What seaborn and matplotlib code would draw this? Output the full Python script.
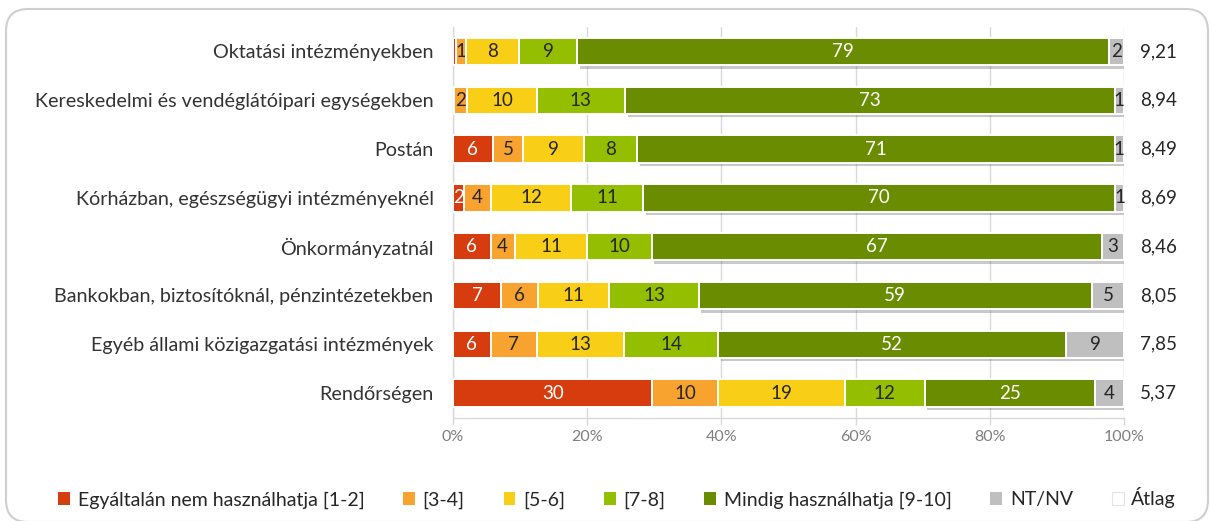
import matplotlib
matplotlib.use("Agg")
import matplotlib.pyplot as plt
import matplotlib.transforms as mtransforms
from matplotlib import patheffects as pe
from matplotlib.patches import FancyBboxPatch, Patch
import seaborn as sns
import pandas as pd
import numpy as np

# ---------------- data ----------------
categories = [
    "Oktatási intézményekben",
    "Kereskedelmi és vendéglátóipari egységekben",
    "Postán",
    "Kórházban, egészségügyi intézményeknél",
    "Önkormányzatnál",
    "Bankokban, biztosítóknál, pénzintézetekben",
    "Egyéb állami közigazgatási intézmények",
    "Rendőrségen",
]
series_names = ["Egyáltalán nem használhatja [1-2]", "[3-4]", "[5-6]", "[7-8]",
                "Mindig használhatja [9-10]", "NT/NV"]
v_1_2 = [0.5, 0.2, 5.9, 1.6, 5.6, 7.2, 5.6, 29.7]
v_3_4 = [1.4, 1.9, 4.6, 4.1, 3.6, 5.5, 6.9, 9.8]
v_5_6 = [8.0, 10.4, 9.0, 11.9, 10.8, 10.6, 13.0, 18.9]
v_7_8 = [8.6, 13.1, 7.9, 10.7, 9.6, 13.3, 14.0, 11.9]
v_9_10 = [79.3, 73.0, 71.2, 70.4, 67.1, 58.6, 51.9, 25.4]
v_ntnv = [2.2, 1.4, 1.4, 1.3, 3.3, 4.8, 8.6, 4.3]
atlag = [9.21, 8.94, 8.49, 8.69, 8.46, 8.05, 7.85, 5.37]
x_ticks = [0, 20, 40, 60, 80, 100]

colors = ["#D63C0E", "#F8A330", "#F8CE17", "#93BF00", "#6A8C00", "#BFBFBF"]
text_colors = ["white", "#262626", "#262626", "#262626", "white", "#262626"]

# ---------------- style ----------------
sns.set_theme(style="white")
plt.rcParams["font.family"] = ["Lato", "DejaVu Sans"]

W, H = 1210, 521
fig = plt.figure(figsize=(W / 100, H / 100), dpi=100)
ax_left, ax_right, ax_top, ax_bottom = 453, 1124, 27, 417.5
ax = fig.add_axes([ax_left / W, 1 - ax_bottom / H,
                   (ax_right - ax_left) / W, (ax_bottom - ax_top) / H])

grid_col = "#D9D9D9"
ax.set_axisbelow(True)
for t in x_ticks:
    ax.axvline(t, color=grid_col, lw=1, zorder=0)

all_series = [v_1_2, v_3_4, v_5_6, v_7_8, v_9_10, v_ntnv]
left = np.zeros(len(categories))
for i, (vals, col, tcol) in enumerate(zip(all_series, colors, text_colors)):
    df = pd.DataFrame({"cat": categories, "val": vals})
    n0 = len(ax.patches)
    sns.barplot(data=df, x="val", y="cat", order=categories, color=col,
                saturation=1, width=0.56, left=left.copy(), edgecolor="white",
                linewidth=1.4, ax=ax, zorder=3)
    new = ax.patches[n0:]
    if i >= 4:
        for p in new:
            p.set_path_effects([
                pe.SimplePatchShadow(offset=(2, -2.5), shadow_rgbFace="#666666", alpha=0.35),
                pe.Normal()])
    labels = [str(int(round(v))) if v >= 1 else "" for v in vals]
    ax.bar_label(ax.containers[-1], labels=labels, label_type="center",
                 color=tcol, fontsize=13.5)
    left += np.array(vals)

ax.set_xlim(0, 100)
ax.set_ylim(len(categories) - 0.5, -0.5)
ax.set_xticks(x_ticks)
ax.set_xticklabels([f"{t}%" for t in x_ticks], color="#7F7F7F", fontsize=11.5)
ax.set_xlabel("")
ax.set_ylabel("")
ax.tick_params(axis="y", which="major", length=0, pad=14, labelsize=14.2,
               labelcolor="#333333")
ax.set_yticks(np.arange(-0.5, len(categories), 1), minor=True)
ax.tick_params(axis="y", which="minor", length=6, color=grid_col, width=1)
ax.tick_params(axis="x", which="major", length=5, color=grid_col, width=1,
               pad=4, bottom=True)

for s in ["top", "right"]:
    ax.spines[s].set_visible(False)
for s in ["left", "bottom"]:
    ax.spines[s].set_color(grid_col)
    ax.spines[s].set_linewidth(1)

# average values on the right
for i, a in enumerate(atlag):
    ax.text(105.1, i, f"{a:.2f}".replace(".", ","), ha="center", va="center",
            fontsize=13.5, color="#262626", clip_on=False)

# legend
handles = [Patch(facecolor=c, edgecolor="none") for c in colors]
handles.append(Patch(facecolor="white", edgecolor="#E3E3E3", linewidth=0.8))
fig.legend(handles, series_names + ["Átlag"], loc="center",
           bbox_to_anchor=(0.51, 1 - 498 / H), ncol=7, frameon=False,
           handlelength=0.6, handleheight=0.6, handletextpad=0.4,
           columnspacing=2.0, fontsize=14, labelcolor="#262626")

# outer rounded frame
frame = FancyBboxPatch((6, -1), 1202, 513, boxstyle="round,pad=0,rounding_size=22",
                       transform=mtransforms.IdentityTransform(), fill=False,
                       edgecolor="#CFCFCF", linewidth=1.5)
fig.add_artist(frame)

fig.savefig("out.png", dpi=100)
